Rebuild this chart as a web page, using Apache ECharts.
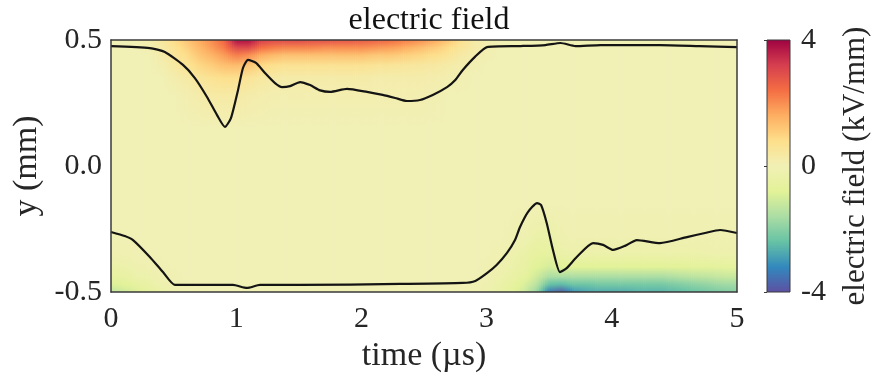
<!DOCTYPE html>
<html>
<head>
<meta charset="utf-8">
<script src="https://cdn.jsdelivr.net/npm/echarts@6/dist/echarts.min.js"></script>
<style>
  html, body { margin: 0; padding: 0; background: #fff; }
  #chart { width: 872px; height: 379px; }
</style>
</head>
<body>
<div id="chart"></div>
<script>
// Sample times (µs) of the field grid
const times = [
  0.0, 0.1, 0.2, 0.3, 0.4, 0.5, 0.6, 0.7, 0.8, 0.9,
  1.0, 1.1, 1.2, 1.3, 1.4, 1.5, 1.6, 1.7, 1.8, 1.9,
  2.0, 2.1, 2.2, 2.3, 2.4, 2.5, 2.6, 2.7, 2.8, 2.9,
  3.0, 3.1, 3.2, 3.3, 3.4, 3.5, 3.6, 3.7, 3.8, 3.9,
  4.0, 4.1, 4.2, 4.3, 4.4, 4.5, 4.6, 4.7, 4.8, 4.9, 5.0
];

// Positions (mm) of the field grid rows, top to bottom
const levels = [0.5, 0.47, 0.44, 0.40, 0.35, 0.28, 0.15, -0.15, -0.28, -0.35, -0.40, -0.44, -0.47, -0.5];

// Electric field (kV/mm) along each row
const fieldTop50 = [
  0, 0, 0.05, 0.15, 0.4, 0.8, 1.2, 1.6, 2.0, 2.5,
  3.8, 3.8, 3.2, 3.0, 3.0, 3.0, 2.9, 2.9, 2.8, 2.8,
  2.7, 2.6, 2.5, 2.3, 2.1, 1.9, 1.6, 1.2, 0.7, 0.3,
  0.1, 0, 0, 0, 0, 0, 0, 0, 0, 0,
  0, 0, 0, 0, 0, 0, 0, 0, 0, 0, 0
];
const fieldTop47 = [
  0, 0, 0, 0.1, 0.3, 0.6, 1.0, 1.4, 1.8, 2.2,
  3.0, 3.0, 2.4, 2.2, 2.1, 2.1, 2.1, 2.0, 2.0, 2.0,
  2.0, 1.9, 1.8, 1.7, 1.5, 1.3, 1.1, 0.8, 0.5, 0.3,
  0.1, 0, 0, 0, 0, 0, 0, 0, 0, 0,
  0, 0, 0, 0, 0, 0, 0, 0, 0, 0, 0
];
const fieldTop44 = [
  0, 0, 0, 0, 0.2, 0.5, 0.8, 1.2, 1.5, 1.8,
  2.2, 2.0, 1.6, 1.4, 1.3, 1.3, 1.3, 1.3, 1.3, 1.3,
  1.3, 1.2, 1.2, 1.1, 1.0, 0.9, 0.75, 0.55, 0.3, 0.15,
  0.05, 0, 0, 0, 0, 0, 0, 0, 0, 0,
  0, 0, 0, 0, 0, 0, 0, 0, 0, 0, 0
];
const fieldTop40 = [
  0, 0, 0, 0, 0.1, 0.35, 0.6, 0.9, 1.1, 1.3,
  1.4, 1.2, 0.9, 0.75, 0.65, 0.65, 0.65, 0.65, 0.65, 0.65,
  0.65, 0.6, 0.55, 0.5, 0.45, 0.4, 0.35, 0.25, 0.15, 0.05,
  0, 0, 0, 0, 0, 0, 0, 0, 0, 0,
  0, 0, 0, 0, 0, 0, 0, 0, 0, 0, 0
];
const fieldTop35 = [
  0, 0, 0, 0, 0, 0.15, 0.3, 0.5, 0.65, 0.75,
  0.75, 0.55, 0.4, 0.3, 0.25, 0.25, 0.25, 0.25, 0.25, 0.25,
  0.25, 0.2, 0.2, 0.2, 0.2, 0.2, 0.15, 0.1, 0.05, 0,
  0, 0, 0, 0, 0, 0, 0, 0, 0, 0,
  0, 0, 0, 0, 0, 0, 0, 0, 0, 0, 0
];
const fieldTop28 = [
  0, 0, 0, 0, 0, 0, 0.1, 0.2, 0.3, 0.3,
  0.3, 0.2, 0.15, 0.1, 0.1, 0.1, 0.1, 0.1, 0.1, 0.1,
  0.1, 0.1, 0.1, 0.1, 0.1, 0.1, 0.05, 0, 0, 0,
  0, 0, 0, 0, 0, 0, 0, 0, 0, 0,
  0, 0, 0, 0, 0, 0, 0, 0, 0, 0, 0
];
const fieldMid15 = [
  0, 0, 0, 0, 0, 0, 0, 0, 0, 0,
  0, 0, 0, 0, 0, 0, 0, 0, 0, 0,
  0, 0, 0, 0, 0, 0, 0, 0, 0, 0,
  0, 0, 0, 0, 0, 0, 0, 0, 0, 0,
  0, 0, 0, 0, 0, 0, 0, 0, 0, 0, 0
];
const fieldMidN15 = [
  0, 0, 0, 0, 0, 0, 0, 0, 0, 0,
  0, 0, 0, 0, 0, 0, 0, 0, 0, 0,
  0, 0, 0, 0, 0, 0, 0, 0, 0, 0,
  0, 0, 0, 0, 0, 0, 0, 0, 0, 0,
  0, 0, 0, 0, 0, 0, 0, 0, 0, 0, 0
];
const fieldBot28 = [
  0, 0, 0, 0, 0, 0, 0, 0, 0, 0,
  0, 0, 0, 0, 0, 0, 0, 0, 0, 0,
  0, 0, 0, 0, 0, 0, 0, 0, 0, 0,
  0, 0, -0.05, -0.15, -0.35, -0.35, -0.15, -0.1, -0.1, -0.1,
  -0.1, -0.1, -0.1, -0.1, -0.1, -0.1, -0.1, -0.1, -0.1, -0.1, -0.1
];
const fieldBot35 = [
  -0.15, -0.1, -0.05, 0, 0, 0, 0, 0, 0, 0,
  0, 0, 0, 0, 0, 0, 0, 0, 0, 0,
  0, 0, 0, 0, 0, 0, 0, 0, 0, 0,
  0, -0.1, -0.2, -0.4, -0.6, -0.6, -0.35, -0.3, -0.3, -0.3,
  -0.3, -0.3, -0.3, -0.3, -0.3, -0.3, -0.3, -0.3, -0.25, -0.25, -0.25
];
const fieldBot40 = [
  -0.35, -0.3, -0.2, -0.1, -0.05, 0, 0, 0, 0, 0,
  0, 0, 0, 0, 0, 0, 0, 0, 0, 0,
  0, 0, 0, 0, 0, 0, 0, 0, 0, 0,
  -0.05, -0.15, -0.3, -0.5, -0.8, -1.0, -0.8, -0.8, -0.8, -0.8,
  -0.8, -0.8, -0.8, -0.8, -0.8, -0.8, -0.75, -0.7, -0.7, -0.65, -0.65
];
const fieldBot44 = [
  -0.6, -0.5, -0.35, -0.25, -0.1, -0.05, 0, 0, 0, 0,
  0, 0, 0, 0, 0, 0, 0, 0, 0, 0,
  0, 0, 0, 0, 0, 0, 0, 0, 0, 0,
  -0.1, -0.25, -0.4, -0.65, -1.1, -1.6, -1.6, -1.6, -1.6, -1.6,
  -1.6, -1.6, -1.6, -1.6, -1.6, -1.5, -1.4, -1.35, -1.3, -1.2, -1.2
];
const fieldBot47 = [
  -0.9, -0.8, -0.6, -0.4, -0.2, -0.1, -0.05, 0, 0, 0,
  0, 0, 0, 0, 0, 0, 0, 0, 0, 0,
  0, 0, 0, 0, 0, 0, 0, 0, 0, -0.05,
  -0.15, -0.35, -0.6, -0.9, -1.4, -2.4, -2.5, -2.3, -2.3, -2.2,
  -2.2, -2.2, -2.2, -2.2, -2.2, -2.1, -2.0, -1.9, -1.8, -1.7, -1.7
];
const fieldBot50 = [
  -1.3, -1.1, -0.9, -0.65, -0.4, -0.2, -0.1, -0.05, 0, 0,
  0, 0, 0, 0, 0, 0, 0, 0, 0, 0,
  0, 0, 0, 0, 0, 0, 0, 0, -0.05, -0.1,
  -0.2, -0.45, -0.7, -1.1, -1.8, -3.4, -3.8, -3.0, -2.8, -2.7,
  -2.7, -2.7, -2.6, -2.6, -2.6, -2.5, -2.4, -2.3, -2.2, -2.1, -2.0
];

const fieldRows = [
  fieldTop50, fieldTop47, fieldTop44, fieldTop40, fieldTop35, fieldTop28, fieldMid15,
  fieldMidN15, fieldBot28, fieldBot35, fieldBot40, fieldBot44, fieldBot47, fieldBot50
];

// Upper boundary contour (time µs, y mm)
const upperT = [0, 0.31, 0.43, 0.575, 0.67, 0.767, 0.847, 0.91, 0.958, 1.014, 1.054, 1.094, 1.158, 1.23, 1.31, 1.366, 1.43, 1.51, 1.59, 1.67, 1.75, 1.885, 2.045, 2.17, 2.27, 2.364, 2.468, 2.57, 2.684, 2.75, 2.81, 2.907, 3.003, 3.27, 3.47, 3.59, 3.71, 3.91, 4.385, 4.70, 5.0];
const upperY = [0.476, 0.468, 0.452, 0.401, 0.349, 0.274, 0.202, 0.155, 0.19, 0.30, 0.389, 0.421, 0.409, 0.369, 0.329, 0.313, 0.317, 0.333, 0.321, 0.30, 0.294, 0.306, 0.294, 0.282, 0.27, 0.258, 0.262, 0.282, 0.313, 0.341, 0.381, 0.433, 0.472, 0.476, 0.48, 0.488, 0.476, 0.48, 0.48, 0.476, 0.472];

// Lower boundary contour (time µs, y mm)
const lowerT = [0, 0.11, 0.176, 0.31, 0.415, 0.51, 0.71, 0.974, 1.086, 1.19, 1.51, 2.31, 2.81, 2.91, 3.003, 3.08, 3.163, 3.227, 3.267, 3.33, 3.403, 3.435, 3.48, 3.53, 3.586, 3.64, 3.72, 3.85, 3.93, 4.01, 4.105, 4.20, 4.385, 4.60, 4.745, 4.865, 5.0];
const lowerY = [-0.262, -0.278, -0.294, -0.361, -0.421, -0.472, -0.472, -0.472, -0.484, -0.472, -0.472, -0.468, -0.464, -0.456, -0.425, -0.393, -0.345, -0.294, -0.242, -0.183, -0.147, -0.155, -0.226, -0.333, -0.421, -0.405, -0.361, -0.306, -0.313, -0.333, -0.317, -0.294, -0.306, -0.282, -0.266, -0.254, -0.266];

// Axis ticks
const timeTicks = [0, 1, 2, 3, 4, 5];
const yTicks = [-0.5, 0.0, 0.5];
const fieldTicks = [-4, 0, 4];

// Diverging colour scale, from -4 kV/mm up to +4 kV/mm
const palette = ['#5e4fa2', '#3288bd', '#66c2a5', '#abdda4', '#e3f298', '#f1f0b5',
                 '#fddf8b', '#fdae61', '#f46d43', '#d53e4f', '#9e0142'];
const fieldMin = -4, fieldMax = 4;

const paletteRGB = palette.map(h => [1, 3, 5].map(p => parseInt(h.substr(p, 2), 16)));
function fieldColor(v) {
  let n = (v - fieldMin) / (fieldMax - fieldMin);
  n = Math.max(0, Math.min(1, n)) * (paletteRGB.length - 1);
  const i = Math.min(Math.floor(n), paletteRGB.length - 2);
  const f = n - i;
  const a = paletteRGB[i], b = paletteRGB[i + 1];
  const c = a.map((x, k) => Math.round(x + (b[k] - x) * f));
  return 'rgb(' + c.join(',') + ')';
}

const FONT = 'Liberation Serif';
const TEXT = '#262626';
const EDGE = '#3a3a3a';

// Each field interval is shaded as in an interpolated pcolor plot
const SUB = 6;
function renderField(params, api) {
  const i = api.value(2);
  const t0 = times[i], t1 = times[i + 1];
  const yTop = api.coord([t0, levels[0]])[1];
  const yBot = api.coord([t0, levels[levels.length - 1]])[1];
  const span = levels[0] - levels[levels.length - 1];
  const children = [];
  for (let s = 0; s < SUB; s++) {
    const xa = api.coord([t0 + (t1 - t0) * s / SUB, 0])[0];
    const xb = api.coord([t0 + (t1 - t0) * (s + 1) / SUB, 0])[0];
    const fm = (s + 0.5) / SUB;
    const stops = levels.map((lv, k) => ({
      offset: (levels[0] - lv) / span,
      color: fieldColor(fieldRows[k][i] * (1 - fm) + fieldRows[k][i + 1] * fm)
    }));
    children.push({
      type: 'rect',
      shape: { x: xa, y: yTop, width: xb - xa + 0.7, height: yBot - yTop },
      style: { fill: { type: 'linear', x: 0, y: 0, x2: 0, y2: 1, colorStops: stops } }
    });
  }
  return { type: 'group', children };
}

function renderColorbar(params, api) {
  const p0 = api.coord([0, fieldMax]);
  const p1 = api.coord([1, fieldMin]);
  const stops = palette.map((c, k) => ({ offset: 1 - k / (palette.length - 1), color: c }));
  return {
    type: 'rect',
    shape: { x: p0[0], y: p0[1], width: p1[0] - p0[0], height: p1[1] - p0[1] },
    style: { fill: { type: 'linear', x: 0, y: 0, x2: 0, y2: 1, colorStops: stops }, stroke: EDGE, lineWidth: 1 }
  };
}

const chart = echarts.init(document.getElementById('chart'), null, { renderer: 'canvas' });

const labelStyle = { color: TEXT, fontFamily: FONT, fontSize: 30 };
const nameStyle = { color: TEXT, fontFamily: FONT, fontSize: 34 };
const barNameStyle = { color: TEXT, fontFamily: FONT, fontSize: 31 };
const frameLine = { show: true, onZero: false, lineStyle: { color: EDGE, width: 1.5 } };

chart.setOption({
  animation: false,
  backgroundColor: '#fff',
  title: {
    text: 'electric field',
    left: 424,
    top: 0,
    textAlign: 'center',
    textStyle: { color: '#111', fontFamily: FONT, fontSize: 32, fontWeight: 'normal' }
  },
  grid: [
    { left: 111, top: 40, width: 626, height: 252 },
    { left: 767, top: 40, width: 23, height: 252 }
  ],
  xAxis: [
    {
      gridIndex: 0, type: 'value', min: timeTicks[0], max: timeTicks[timeTicks.length - 1], interval: 1,
      position: 'bottom', z: 10,
      name: 'time (µs)', nameLocation: 'middle', nameGap: 43, nameTextStyle: nameStyle,
      axisLine: frameLine,
      axisTick: { show: false }, splitLine: { show: false },
      axisLabel: Object.assign({ margin: 12 }, labelStyle)
    },
    {
      gridIndex: 0, type: 'value', min: 0, max: 5, position: 'top', z: 10,
      axisLine: frameLine,
      axisTick: { show: false }, splitLine: { show: false }, axisLabel: { show: false }
    },
    {
      gridIndex: 1, type: 'value', min: 0, max: 1, show: false
    }
  ],
  yAxis: [
    {
      gridIndex: 0, type: 'value', min: yTicks[0], max: yTicks[yTicks.length - 1], interval: 0.5,
      position: 'left', z: 10,
      name: 'y (mm)', nameLocation: 'middle', nameGap: 64, nameTextStyle: nameStyle,
      axisLine: frameLine,
      axisTick: { show: false }, splitLine: { show: false },
      axisLabel: Object.assign({ margin: 9, formatter: v => v.toFixed(1) }, labelStyle)
    },
    {
      gridIndex: 0, type: 'value', min: -0.5, max: 0.5, position: 'right', z: 10,
      axisLine: frameLine,
      axisTick: { show: false }, splitLine: { show: false }, axisLabel: { show: false }
    },
    {
      gridIndex: 1, type: 'value', min: fieldTicks[0], max: fieldTicks[fieldTicks.length - 1], interval: 4,
      position: 'right', z: 10,
      name: 'electric field (kV/mm)', nameLocation: 'middle', nameGap: 50, nameRotate: 90,
      nameTextStyle: barNameStyle,
      axisLine: { show: false },
      axisTick: { show: true, inside: true, length: 3, lineStyle: { color: EDGE } },
      splitLine: { show: false },
      axisLabel: Object.assign({ margin: 11 }, labelStyle)
    }
  ],
  series: [
    {
      type: 'custom',
      xAxisIndex: 0, yAxisIndex: 0,
      clip: true,
      renderItem: renderField,
      data: times.slice(0, -1).map((t, i) => [t, 0, i]),
      z: 1,
      silent: true
    },
    {
      type: 'line',
      xAxisIndex: 0, yAxisIndex: 0,
      data: upperT.map((t, i) => [t, upperY[i]]),
      showSymbol: false, symbol: 'none', smooth: 0.2,
      lineStyle: { color: '#141414', width: 2.2 },
      z: 5, silent: true
    },
    {
      type: 'line',
      xAxisIndex: 0, yAxisIndex: 0,
      data: lowerT.map((t, i) => [t, lowerY[i]]),
      showSymbol: false, symbol: 'none', smooth: 0.2,
      lineStyle: { color: '#141414', width: 2.2 },
      z: 5, silent: true
    },
    {
      type: 'custom',
      xAxisIndex: 2, yAxisIndex: 2,
      renderItem: renderColorbar,
      data: [[0, fieldMin]],
      z: 1, silent: true
    }
  ]
});
</script>
</body>
</html>
